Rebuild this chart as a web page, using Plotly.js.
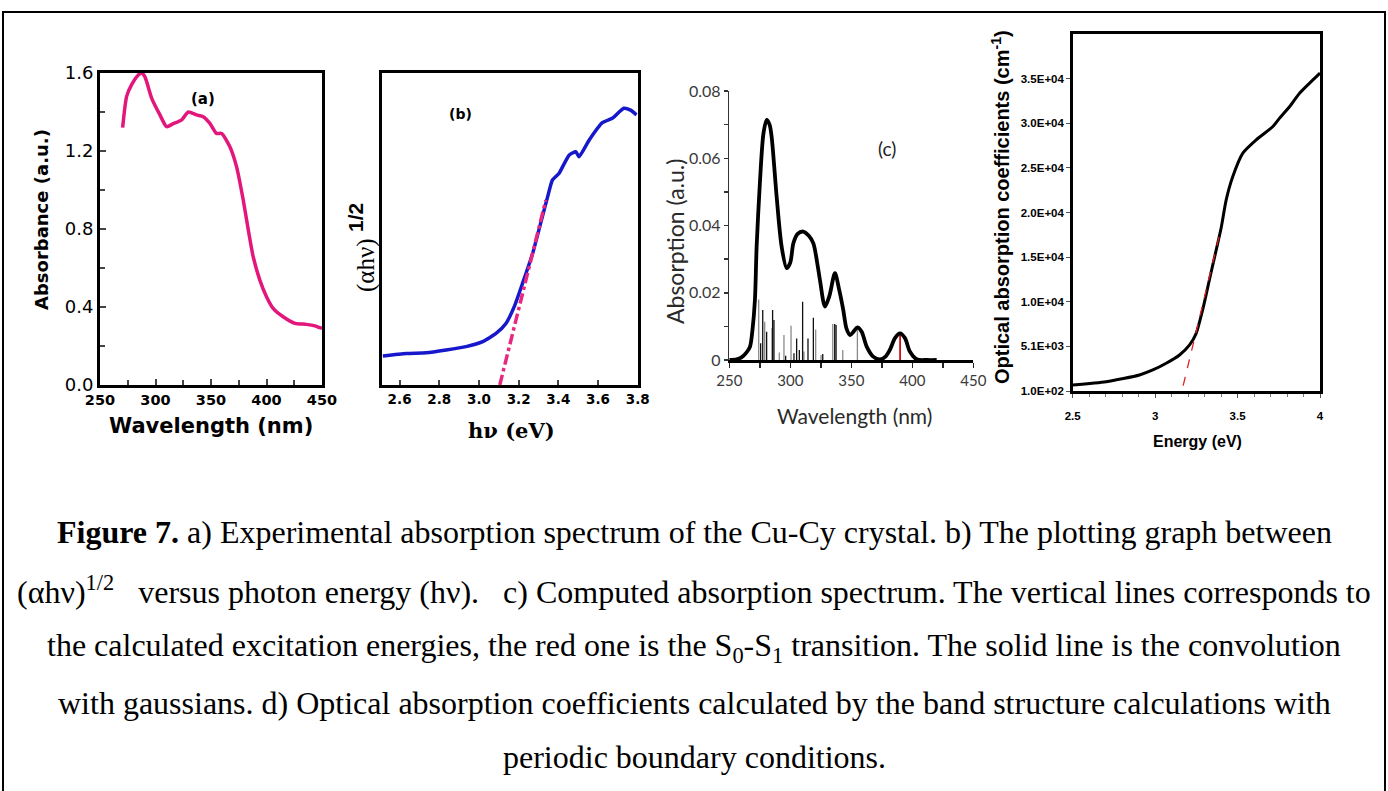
<!DOCTYPE html>
<html><head><meta charset="utf-8">
<script src="https://cdn.plot.ly/plotly-3.0.1.min.js"></script>
<style>html,body{margin:0;padding:0;background:#fff}</style>
</head><body><div id="chart" style="width:1388px;height:791px"></div>
<script>
// ---------- DATA ----------
// (a) experimental absorption spectrum
const aWavelength = [270.4,274,278.5,284.5,287.5,290.5,296.6,304,310,316,323.6,329.6,337,343,349,355,359.6,367,373,379,383.6,388,394,400,406,415,425.7,436,443.7,448,450];
const aAbsorbance = [1.32,1.48,1.54,1.59,1.60,1.58,1.47,1.385,1.325,1.34,1.36,1.40,1.385,1.376,1.342,1.29,1.29,1.222,1.12,0.95,0.795,0.658,0.538,0.453,0.393,0.35,0.316,0.311,0.303,0.294,0.29];
const aXTicks = [250,300,350,400,450];
const aYTicks = [0.0,0.4,0.8,1.2,1.6];

// (b) (alpha h nu)^1/2 vs h nu
const bEnergy = [2.516,2.634,2.734,2.835,2.935,3.019,3.086,3.136,3.178,3.22,3.27,3.32,3.345,3.37,3.404,3.454,3.488,3.504,3.555,3.622,3.672,3.73,3.764,3.794];
const bSignal = [0.093,0.101,0.103,0.112,0.123,0.139,0.165,0.197,0.251,0.326,0.42,0.54,0.60,0.656,0.678,0.736,0.747,0.731,0.784,0.84,0.854,0.886,0.88,0.865];
const bFitEnergy = [3.105,3.337];
const bFitSignal = [0.0,0.592];
const bXTicks = [2.6,2.8,3.0,3.2,3.4,3.6,3.8];

// (c) computed absorption spectrum
const cWavelength = [250,256,260,264,267,269,271,272.4,275.2,278,280.6,283,284.7,288.8,292.9,297,300,302.5,306,310.6,315,318.9,322,324.3,328.4,332,336.6,340,343.4,346,349,352,355,358.5,362.6,368,373.5,378,381.6,385.8,390,394,398,403.6,412,420];
const cAbsorption = [0,0.0002,0.0008,0.0022,0.004,0.009,0.0178,0.0337,0.0535,0.0674,0.0714,0.070,0.0664,0.0486,0.0337,0.0273,0.029,0.0347,0.0375,0.0382,0.037,0.0347,0.029,0.0238,0.0159,0.019,0.0258,0.021,0.0149,0.0094,0.0074,0.0085,0.0097,0.0084,0.004,0.001,0.0002,0.001,0.003,0.0065,0.0079,0.0065,0.0025,0.0002,0,0];
const cGrayLinesX = [274.1,279,285,291,294.8,300.6,311.2,320.8,325.2,334.8,343,355];
const cGrayLinesH = [0.018,0.0114,0.0095,0.0022,0.0074,0.0102,0.0025,0.0091,0.0015,0.0107,0.003,0.0097];
const cBlackLinesX = [275.7,277.4,280.6,285.5,286.6,296.2,303,305.2,307.4,310.1,314.5,318.9,326.6,336.4,337.5];
const cBlackLinesH = [0.005,0.0149,0.0084,0.0149,0.0119,0.0013,0.002,0.0064,0.003,0.0173,0.0064,0.0126,0.0018,0.0107,0.0104];
const cRedLineX = [390];
const cRedLineH = [0.0074];
const cXTicks = [250,300,350,400,450];
const cYTicks = [0,0.02,0.04,0.06,0.08];

// (d) optical absorption coefficients
const dEnergy = [2.5,2.703,2.905,2.986,3.067,3.148,3.209,3.249,3.29,3.33,3.372,3.40,3.431,3.471,3.532,3.613,3.714,3.755,3.816,3.876,4.0];
const dAlpha = [771,1140,1890,2450,3200,4130,5250,6550,9300,12600,16000,18300,21470,24080,26700,28180,29670,30610,31910,33400,35650];
const dFitEnergy = [3.17,3.40];
const dFitAlpha = [700,18300];
const dYTickVals = [100,5090,10080,15070,20060,25050,30040,35030];
const dYTickText = ["1.0E+02","5.1E+03","1.0E+04","1.5E+04","2.0E+04","2.5E+04","3.0E+04","3.5E+04"];
const dXTicks = [2.5,3,3.5,4];

// caption lines
const captionLines = [
  '<b>Figure 7.</b> a) Experimental absorption spectrum of the Cu-Cy crystal. b) The plotting graph between',
  '(αhν)<sup>1/2</sup>\u00a0\u00a0 versus photon energy (hν).\u00a0\u00a0 c) Computed absorption spectrum. The vertical lines corresponds to',
  'the calculated excitation energies, the red one is the S<sub>0</sub>-S<sub>1</sub> transition. The solid line is the convolution',
  'with gaussians. d) Optical absorption coefficients calculated by the band structure calculations with',
  'periodic boundary conditions.'
];

// ---------- helpers ----------
const W = 1388, H = 791;
const px = v => v / W;
const py = v => 1 - v / H;
function sticks(xs, hs) {
  const X = [], Y = [];
  xs.forEach((x, i) => { X.push(x, x, null); Y.push(0, hs[i], null); });
  return {x: X, y: Y};
}
const ARIAL = "Liberation Sans, Arial, sans-serif";
const DEJA = "DejaVu Sans, Verdana, sans-serif";
const SERIF = "Liberation Serif, Times New Roman, serif";
const DSERIF = "DejaVu Serif, serif";
const CAL = "Lato, Open Sans, sans-serif";

function ann(text, x, y, font, extra) {
  return Object.assign({text: text, x: px(x), y: py(y), xref: 'paper', yref: 'paper', showarrow: false,
    xanchor: 'center', yanchor: 'middle', font: font}, extra || {});
}

const gs = sticks(cGrayLinesX, cGrayLinesH);
const bs = sticks(cBlackLinesX, cBlackLinesH);
const rs = sticks(cRedLineX, cRedLineH);

const traces = [
  {x: aWavelength, y: aAbsorbance, xaxis: 'x', yaxis: 'y', mode: 'lines', line: {color: '#e3167c', width: 3.5, shape: 'spline', smoothing: 0.6}},
  {x: bEnergy, y: bSignal, xaxis: 'x2', yaxis: 'y2', mode: 'lines', line: {color: '#1717cc', width: 3.5, shape: 'spline', smoothing: 0.5}},
  {x: bFitEnergy, y: bFitSignal, xaxis: 'x2', yaxis: 'y2', mode: 'lines', line: {color: '#e8287e', width: 3.5, dash: 'dashdot'}},
  {x: gs.x, y: gs.y, xaxis: 'x3', yaxis: 'y3', mode: 'lines', line: {color: '#8a8a8a', width: 1.3}, connectgaps: false},
  {x: bs.x, y: bs.y, xaxis: 'x3', yaxis: 'y3', mode: 'lines', line: {color: '#111111', width: 1.3}, connectgaps: false},
  {x: rs.x, y: rs.y, xaxis: 'x3', yaxis: 'y3', mode: 'lines', line: {color: '#cc1111', width: 1.8}, connectgaps: false},
  {x: cWavelength, y: cAbsorption, xaxis: 'x3', yaxis: 'y3', mode: 'lines', line: {color: '#000000', width: 3.8, shape: 'spline', smoothing: 0.8}},
  {x: dEnergy, y: dAlpha, xaxis: 'x4', yaxis: 'y4', mode: 'lines', line: {color: '#000000', width: 3, shape: 'spline', smoothing: 0.6}},
  {x: dFitEnergy, y: dFitAlpha, xaxis: 'x4', yaxis: 'y4', mode: 'lines', line: {color: '#e02020', width: 1.3, dash: 'dash'}}
];

const captionY = [532, 590, 647, 703, 757];

const layout = {
  width: W, height: H, showlegend: false,
  margin: {l: 0, r: 0, t: 0, b: 0},
  paper_bgcolor: '#ffffff', plot_bgcolor: 'rgba(0,0,0,0)',
  // (a)
  xaxis: {domain: [px(100), px(322)], anchor: 'y', range: [250, 450], tickvals: aXTicks,
    showline: true, mirror: true, linecolor: '#000', linewidth: 3, ticks: 'inside', ticklen: 6, tickwidth: 2,
    minor: {dtick: 25, tick0: 250, ticks: 'inside', ticklen: 5, tickwidth: 2}, showgrid: false, zeroline: false,
    tickfont: {family: DEJA, size: 14.5, weight: 'bold', color: '#000'}, fixedrange: true},
  yaxis: {domain: [py(385), py(73)], anchor: 'x', range: [0, 1.6], tickvals: aYTicks, tickformat: '.1f',
    showline: true, mirror: true, linecolor: '#000', linewidth: 3, ticks: 'inside', ticklen: 6, tickwidth: 2,
    minor: {dtick: 0.2, tick0: 0, ticks: 'inside', ticklen: 5, tickwidth: 2}, showgrid: false, zeroline: false,
    tickfont: {family: DEJA, size: 18, color: '#000'}, fixedrange: true},
  // (b)
  xaxis2: {domain: [px(381.7), px(637.7)], anchor: 'y2', range: [2.51, 3.8], tickvals: bXTicks, tickformat: '.1f',
    showline: true, mirror: true, linecolor: '#000', linewidth: 3, ticks: 'inside', ticklen: 5, tickwidth: 2,
    showgrid: false, zeroline: false, tickfont: {family: DEJA, size: 13.5, weight: 'bold', color: '#000'}, fixedrange: true},
  yaxis2: {domain: [py(385), py(72.7)], anchor: 'x2', range: [0, 1], showticklabels: false, ticks: '',
    showline: true, mirror: true, linecolor: '#000', linewidth: 3, showgrid: false, zeroline: false, fixedrange: true},
  // (c)
  xaxis3: {domain: [px(729.3), px(973.3)], anchor: 'y3', range: [250, 450], tickvals: cXTicks,
    showline: true, linecolor: '#000', linewidth: 3, ticks: 'outside', ticklen: 5, tickwidth: 1.5, tickcolor: '#222',
    minor: {dtick: 25, tick0: 250, ticks: 'outside', ticklen: 5, tickwidth: 1.5, tickcolor: '#222'},
    showgrid: false, zeroline: false, tickfont: {family: CAL, size: 15, color: '#3a3a3a'}, fixedrange: true},
  yaxis3: {domain: [py(360), py(91)], anchor: 'x3', range: [0, 0.08], tickvals: cYTicks,
    showline: true, linecolor: '#333', linewidth: 1.5, ticks: 'outside', ticklen: 4, tickwidth: 1.5, tickcolor: '#333',
    minor: {dtick: 0.01, tick0: 0, ticks: 'outside', ticklen: 4, tickwidth: 1.5, tickcolor: '#333'},
    showgrid: false, zeroline: false, tickfont: {family: CAL, size: 16, color: '#3a3a3a'}, fixedrange: true},
  // (d)
  xaxis4: {domain: [px(1072.7), px(1320)], anchor: 'y4', range: [2.5, 4], tickvals: dXTicks,
    showline: true, mirror: true, linecolor: '#000', linewidth: 3, ticks: 'outside', ticklen: 4, tickwidth: 1, tickcolor: '#555',
    minor: {dtick: 0.1, tick0: 2.5, ticks: 'outside', ticklen: 3, tickwidth: 1, tickcolor: '#777'},
    ticklabelstandoff: 8,
    showgrid: false, zeroline: false, tickfont: {family: ARIAL, size: 11.5, weight: 'bold', color: '#000'}, fixedrange: true},
  yaxis4: {domain: [py(391), py(34)], anchor: 'x4', range: [100, 40020], tickvals: dYTickVals, ticktext: dYTickText,
    showline: true, mirror: true, linecolor: '#000', linewidth: 2.5, ticks: 'outside', ticklen: 4, tickwidth: 1, tickcolor: '#555',
    showgrid: false, zeroline: false, tickfont: {family: ARIAL, size: 11.5, weight: 'bold', color: '#000'}, fixedrange: true},
  shapes: [
    {type: 'rect', xref: 'paper', yref: 'paper', x0: px(3), x1: px(1385), y0: -0.05, y1: py(12), line: {color: '#000', width: 2}, layer: 'below'}
  ],
  annotations: [
    // panel labels
    ann('<b>(a)</b>', 203, 99, {family: DEJA, size: 15, color: '#000'}),
    ann('<b>(b)</b>', 460, 114, {family: DEJA, size: 14, color: '#000'}),
    ann('(c)', 887, 149, {family: CAL, size: 19, color: '#222'}),
    // (a) titles
    ann('<b>Wavelength (nm)</b>', 211, 426, {family: DEJA, size: 21, color: '#000'}),
    ann('<b>Absorbance (a.u.)</b>', 41, 220, {family: DEJA, size: 18, color: '#000'}, {textangle: -90}),
    // (b) titles
    ann('<b>hν (eV)</b>', 512, 430, {family: DSERIF, size: 21, color: '#000'}),
    ann('(αhν)', 366, 265, {family: SERIF, size: 25, color: '#000'}, {textangle: -90}),
    ann('<b>1/2</b>', 356, 218, {family: ARIAL, size: 21, color: '#000'}, {textangle: -90}),
    // (c) titles
    ann('Wavelength (nm)', 854, 415, {family: CAL, size: 21, color: '#2a2a2a'}),
    ann('Absorption (a.u.)', 675, 242, {family: CAL, size: 23, color: '#2a2a2a'}, {textangle: -90}),
    // (d) titles
    ann('<b>Energy (eV)</b>', 1197, 441, {family: ARIAL, size: 16, color: '#000'}),
    ann('<b>Optical absorption coefficients (cm<sup>-1</sup>)</b>', 1001, 207, {family: ARIAL, size: 20, color: '#000'}, {textangle: -90})
  ].concat(captionLines.map((t, i) => ann(t, 694, captionY[i], {family: SERIF, size: 32, color: '#000'})))
};

Plotly.newPlot('chart', traces, layout, {displayModeBar: false, staticPlot: true});
</script>
</body></html>
